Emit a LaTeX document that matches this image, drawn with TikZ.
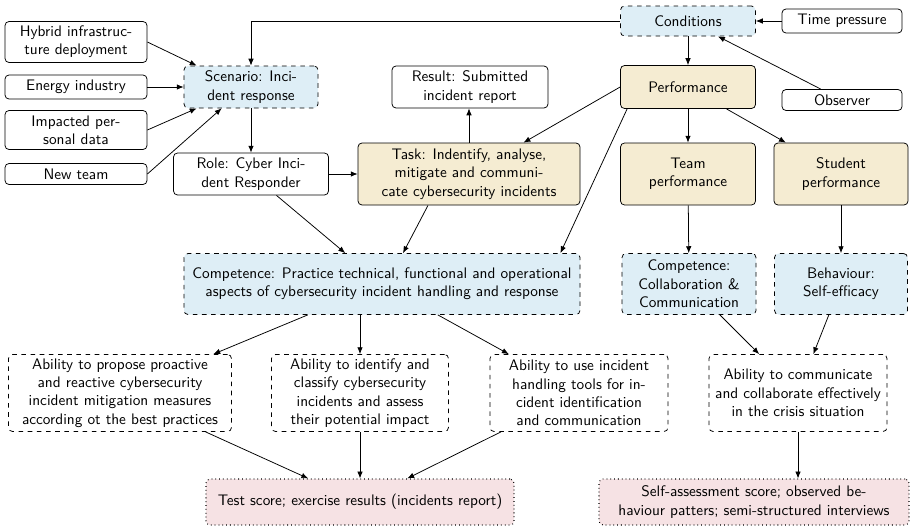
\documentclass[tikz,border=0pt]{standalone}
\usepackage{fontspec}
\usetikzlibrary{arrows.meta}
\newdimen\U \U=0.655pt
\definecolor{cblue}{RGB}{222,238,246}
\definecolor{cbeige}{RGB}{245,236,210}
\definecolor{cpink}{RGB}{246,226,228}
\tikzset{
  box/.style={draw, rounded corners=4\U, align=center, inner sep=0pt, font=\sffamily, line width=0.5pt},
  bluebox/.style={box, dashed, fill=cblue},
  beigebox/.style={box, fill=cbeige},
  abilitybox/.style={box, dashed},
  pinkbox/.style={box, dotted, fill=cpink, line width=0.7pt},
  arr/.style={-{Latex[length=4.5pt,width=3.6pt]}, line width=0.5pt},
}
\begin{document}
\begin{tikzpicture}[x=\U, y=-\U]
\useasboundingbox (0,0) rectangle (911,529);
% top left inputs
\node[box, minimum width=142\U, minimum height=41\U] (hyb) at (76,42) {Hybrid infrastruc-\\ture deployment};
\node[box, minimum width=142\U, minimum height=24\U] (energy) at (76,87) {Energy industry};
\node[box, minimum width=142\U, minimum height=39\U] (impact) at (76,130) {Impacted per-\\sonal data};
\node[box, minimum width=142\U, minimum height=21\U] (newteam) at (76,174) {New team};
\node[bluebox, minimum width=134\U, minimum height=42\U] (scen) at (251,87) {Scenario: Inci-\\dent response};
\node[box, minimum width=156\U, minimum height=42\U] (result) at (470,87) {Result: Submitted\\incident report};
\node[bluebox, minimum width=135\U, minimum height=30\U] (cond) at (688,21) {Conditions};
\node[box, minimum width=120\U, minimum height=24\U] (time) at (842,21) {Time pressure};
\node[beigebox, minimum width=135\U, minimum height=43\U] (perf) at (688,87) {Performance};
\node[box, minimum width=120\U, minimum height=21\U] (obs) at (842,100) {Observer};
\node[beigebox, minimum width=222\U, minimum height=62\U] (task) at (469,174) {Task: Indentify, analyse,\\mitigate and communi-\\cate cybersecurity incidents};
\node[box, minimum width=155\U, minimum height=42\U] (role) at (251,174) {Role: Cyber Inci-\\dent Responder};
\node[beigebox, minimum width=135\U, minimum height=62\U] (team) at (688,174) {Team\\performance};
\node[beigebox, minimum width=134\U, minimum height=62\U] (stud) at (841,174) {Student\\performance};
\node[bluebox, minimum width=396\U, minimum height=61\U] (comp) at (382,284) {Competence: Practice technical, functional and operational\\aspects of cybersecurity incident handling and response};
\node[bluebox, minimum width=134\U, minimum height=61\U] (cc) at (689,284) {Competence:\\Collaboration \&\\Communication};
\node[bluebox, minimum width=133\U, minimum height=61\U] (beh) at (841,284) {Behaviour:\\Self-efficacy};
\node[abilitybox, minimum width=223\U, minimum height=77\U] (ab1) at (120,393) {Ability to propose proactive\\and reactive cybersecurity\\incident mitigation measures\\according ot the best practices};
\node[abilitybox, minimum width=177\U, minimum height=77\U] (ab2) at (360,393) {Ability to identify and\\classify cybersecurity\\incidents and assess\\their potential impact};
\node[abilitybox, minimum width=178\U, minimum height=77\U] (ab3) at (579,393) {Ability to use incident\\handling tools for in-\\cident identification\\and communication};
\node[abilitybox, minimum width=178\U, minimum height=77\U] (ab4) at (798,393) {Ability to communicate\\and collaborate effectively\\in the crisis situation};
\node[pinkbox, minimum width=308\U, minimum height=46\U] (test) at (360,502) {Test score; exercise results (incidents report)};
\node[pinkbox, minimum width=310\U, minimum height=46\U] (self) at (754,502) {Self-assessment score; observed be-\\haviour patters; semi-structured interviews};
% connectors
\draw[arr] (hyb.east) -- ([xshift=13\U]scen.north west);
\draw[arr] (energy) -- (scen);
\draw[arr] (impact.east) -- ([xshift=13\U]scen.south west);
\draw[arr] (newteam.east) -- ([xshift=38\U]scen.south west);
\draw[arr] (cond.west) -| (scen.north);
\draw[arr] (time) -- (cond);
\draw[arr] (obs) -- (cond);
\draw[arr] (cond) -- (perf);
\draw[arr] (perf.west) -- (task);
\draw[arr] ([xshift=7\U]perf.south west) -- ([xshift=-20\U]comp.north east);
\draw[arr] (perf) -- (team);
\draw[arr] (perf) -- (stud);
\draw[arr] (task.north) -- (task.north |- result.south);
\draw[arr] (scen) -- (role);
\draw[arr] (role) -- (task);
\draw[arr] (role) -- (comp);
\draw[arr] ([xshift=-41\U]task.south) -- ([xshift=21\U]comp.north);
\draw[arr] (team) -- (cc);
\draw[arr] (stud) -- (beh);
\draw[arr] (comp) -- (ab1);
\draw[arr] (ab2.north |- comp.south) -- (ab2.north);
\draw[arr] (comp) -- (ab3);
\draw[arr] (cc) -- (ab4);
\draw[arr] (beh) -- (ab4);
\draw[arr] (ab1) -- (test);
\draw[arr] (ab2) -- (test);
\draw[arr] (ab3) -- (test);
\draw[arr] (ab4.south) -- (ab4.south |- self.north);
\end{tikzpicture}
\end{document}
